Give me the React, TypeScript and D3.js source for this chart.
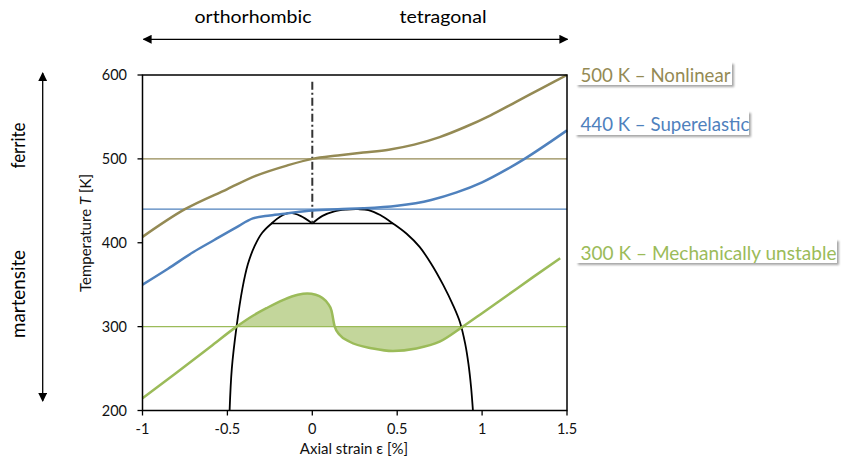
import React from "react";
import * as d3 from "d3";

// ---------- data ----------
const xTicks = [-1, -0.5, 0, 0.5, 1, 1.5];
const yTicks = [200, 300, 400, 500, 600];

const strain500 = [-1, -0.75, -0.5, -0.33, -0.15, 0, 0.15, 0.3, 0.45, 0.6, 0.75, 0.9, 1.05, 1.2, 1.35, 1.5];
const temp500 = [407, 440, 464, 480, 492, 500, 504, 507.5, 511, 517, 526, 538, 552, 568, 584, 600];

const strain440 = [-1, -0.85, -0.7, -0.58, -0.45, -0.35, -0.25, -0.15, 0, 0.15, 0.3, 0.5, 0.7, 0.85, 1.0, 1.15, 1.25, 1.4, 1.5];
const temp440 = [350, 369, 389, 403, 418, 429, 432.5, 435, 438.5, 440, 441, 444, 451, 460, 472, 488, 500, 520, 534];

const strain300 = [-1, -0.8, -0.6, -0.446, -0.35, -0.27, -0.17, -0.085, -0.03, 0.02, 0.06, 0.09, 0.113, 0.132, 0.162, 0.22, 0.357, 0.475, 0.613, 0.75, 0.887, 1.0, 1.15, 1.3, 1.46];
const temp300 = [214.5, 245, 276, 300, 313, 322, 332, 338, 339.5, 338, 334, 328, 319, 300, 290, 282, 274, 271, 274, 282, 300, 316, 337.5, 359, 381.5];

const domeLeftStrain = [-0.487, -0.474, -0.446, -0.412, -0.38, -0.34, -0.295, -0.24, -0.19, -0.132, -0.07, 0];
const domeLeftTemp = [200, 250, 300, 345, 374, 396, 412, 423, 431, 435.5, 432, 423];
const domeRightStrain = [0, 0.06, 0.13, 0.2, 0.27, 0.33, 0.4, 0.475, 0.554, 0.632, 0.7, 0.77, 0.83, 0.87, 0.9, 0.92, 0.935, 0.946];
const domeRightTemp = [423, 432, 437.5, 439.5, 440, 439, 433, 423, 411, 395, 375, 350, 325, 305, 280, 255, 228, 200];

const plateauStrain = [-0.24, 0.475];
const plateauTemp = 423;
const symmetryStrain = 0;
const symmetryTemp = [592, 423];
const unstableRange = [-0.446, 0.887];
const unstableTemp = 300;

const isotherms = [500, 440, 300];
const seriesLabels = ["500 K – Nonlinear", "440 K – Superelastic", "300 K – Mechanically unstable"];
const topPhases = ["orthorhombic", "tetragonal"];
const leftPhases = ["ferrite", "martensite"];
const xTitle = "Axial strain ε [%]";

// ---------- styles ----------
const FONT = "Lato, 'Open Sans', sans-serif";
const colors = ["#948A54", "#4F81BD", "#9BBB59"];
const fillGreen = "#C3D69B";

export default function App() {
  const x = d3.scaleLinear().domain([-1, 1.5]).range([142.5, 567]);
  const y = d3.scaleLinear().domain([200, 600]).range([410.5, 75]);

  const line = d3
    .line<[number, number]>()
    .x((d) => x(d[0]))
    .y((d) => y(d[1]))
    .curve(d3.curveMonotoneX);
  const lineCR = d3
    .line<[number, number]>()
    .x((d) => x(d[0]))
    .y((d) => y(d[1]))
    .curve(d3.curveCatmullRom.alpha(0.5));

  const zip = (a: number[], b: number[]) => a.map((v, i) => [v, b[i]] as [number, number]);
  const series = [zip(strain500, temp500), zip(strain440, temp440), zip(strain300, temp300)];

  const fillPts = series[2].filter((d) => d[0] >= unstableRange[0] && d[0] <= unstableRange[1]);
  const area = d3
    .area<[number, number]>()
    .x((d) => x(d[0]))
    .y0(y(unstableTemp))
    .y1((d) => y(d[1]))
    .curve(d3.curveMonotoneX);

  const labelY = [81.5, 131, 260];
  const labelW = [150, 169, 256];
  const boxes = [
    [576, 62, 156, 23],
    [575, 111, 174, 24],
    [576, 239, 261, 24],
  ];

  return (
    <svg
      width={844}
      height={465}
      style={{ position: "absolute", left: 0, top: 0, background: "#fff" }}
      fontFamily={FONT}
    >
      <defs>
        <marker id="ah" viewBox="0 0 10 10" refX="9" refY="5" markerWidth="9" markerHeight="9" markerUnits="userSpaceOnUse" orient="auto-start-reverse">
          <path d="M0,0 L10,5 L0,10 z" fill="#000" />
        </marker>
        <filter id="sh" x="-10%" y="-30%" width="130%" height="180%">
          <feDropShadow dx="2" dy="2" stdDeviation="1.2" floodColor="#000" floodOpacity="0.35" />
        </filter>
      </defs>

      {/* top phase arrow */}
      <line x1={143.5} x2={567.5} y1={39.3} y2={39.3} stroke="#000" strokeWidth={1.3} markerStart="url(#ah)" markerEnd="url(#ah)" />
      <text x={253} y={23.3} fontSize={18} textAnchor="middle" textLength={117} lengthAdjust="spacingAndGlyphs" fill="#000">{topPhases[0]}</text>
      <text x={443} y={23.3} fontSize={18} textAnchor="middle" textLength={87} lengthAdjust="spacingAndGlyphs" fill="#000">{topPhases[1]}</text>

      {/* left phase arrow */}
      <line x1={42.7} x2={42.7} y1={73} y2={401} stroke="#000" strokeWidth={1.3} markerStart="url(#ah)" markerEnd="url(#ah)" />
      <text transform="translate(25,145.5) rotate(-90)" fontSize={19} textAnchor="middle" textLength={46} lengthAdjust="spacingAndGlyphs">{leftPhases[0]}</text>
      <text transform="translate(25,294) rotate(-90)" fontSize={19} textAnchor="middle" textLength={88} lengthAdjust="spacingAndGlyphs">{leftPhases[1]}</text>

      {/* fill */}
      <path d={area(fillPts) || ""} fill={fillGreen} />

      {/* isotherms */}
      {isotherms.map((t, i) => (
        <line key={t} x1={x(-1)} x2={x(1.5)} y1={y(t)} y2={y(t)} stroke={colors[i]} strokeWidth={1.3} />
      ))}

      {/* dome */}
      <path d={lineCR(zip(domeLeftStrain, domeLeftTemp)) || ""} fill="none" stroke="#000" strokeWidth={1.8} />
      <path d={lineCR(zip(domeRightStrain, domeRightTemp)) || ""} fill="none" stroke="#000" strokeWidth={1.8} />
      <line x1={x(plateauStrain[0])} x2={x(plateauStrain[1])} y1={y(plateauTemp)} y2={y(plateauTemp)} stroke="#000" strokeWidth={1.6} />
      <line x1={x(symmetryStrain)} x2={x(symmetryStrain)} y1={y(symmetryTemp[0])} y2={y(symmetryTemp[1])} stroke="#333" strokeWidth={2} strokeDasharray="8 3 2 3" />

      {/* curves */}
      {series.map((s, i) => (
        <path key={i} d={line(s) || ""} fill="none" stroke={colors[i]} strokeWidth={2.5} />
      ))}

      {/* frame */}
      <rect x={x(-1)} y={y(600)} width={x(1.5) - x(-1)} height={y(200) - y(600)} fill="none" stroke="#000" strokeWidth={1.5} />

      {/* y axis */}
      {yTicks.map((t) => (
        <g key={t}>
          <line x1={x(-1) - 5} x2={x(-1)} y1={y(t)} y2={y(t)} stroke="#000" strokeWidth={1.3} />
          <text x={127} y={y(t)} dy="0.35em" fontSize={14.5} textAnchor="end" fill="#111">{t}</text>
        </g>
      ))}
      <text transform={`translate(91,233) rotate(-90)`} fontSize={15} textAnchor="middle" fill="#111">
        Temperature <tspan fontStyle="italic">T</tspan> [K]
      </text>

      {/* x axis */}
      {xTicks.map((t) => (
        <g key={t}>
          <line x1={x(t)} x2={x(t)} y1={y(200)} y2={y(200) + 5} stroke="#000" strokeWidth={1.3} />
          <text x={x(t)} y={433.5} fontSize={14.5} textAnchor="middle" fill="#111">{t}</text>
        </g>
      ))}
      <text x={354} y={453.5} fontSize={15} textAnchor="middle" fill="#111">{xTitle}</text>

      {/* series labels */}
      {seriesLabels.map((l, i) => (
        <g key={l}>
          <rect x={boxes[i][0]} y={boxes[i][1]} width={boxes[i][2]} height={boxes[i][3]} fill="#fff" filter="url(#sh)" />
          <text x={580.5} y={labelY[i]} fontSize={19} fill={colors[i]} textLength={labelW[i]} lengthAdjust="spacingAndGlyphs">{l}</text>
        </g>
      ))}
    </svg>
  );
}
